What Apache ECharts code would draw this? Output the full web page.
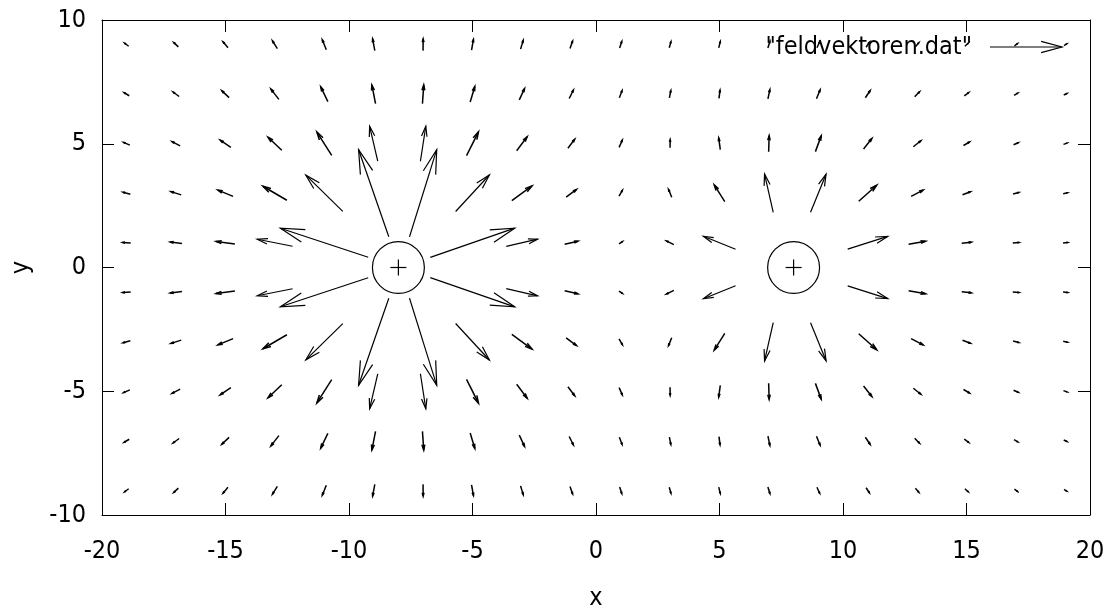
<!DOCTYPE html>
<html>
<head>
<meta charset="utf-8">
<title>feldvektoren</title>
<script src="https://cdn.jsdelivr.net/npm/echarts@6.0.0/dist/echarts.min.js"></script>
<style>
  html, body { margin: 0; padding: 0; background: #fff; }
  #chart { width: 1116px; height: 609px; }
</style>
</head>
<body>
<div id="chart"></div>
<script>
// grid of arrow centres
const xs = [-19, -17, -15, -13, -11, -9, -7, -5, -3, -1, 1, 3, 5, 7, 9, 11, 13, 15, 17, 19];
const ys = [9, 7, 5, 3, 1, -1, -3, -5, -7, -9];

// vector components, one row per y (top to bottom); null = no arrow there
const ex = [
  [-0.160, -0.183, -0.199, -0.198, -0.163, -0.088, 0.005, 0.077, 0.108, 0.105, 0.086, 0.068, 0.065, 0.082, 0.110, 0.132, 0.138, 0.132, 0.119, 0.105],
  [-0.204, -0.247, -0.293, -0.322, -0.288, -0.148, 0.052, 0.187, 0.211, 0.170, 0.109, 0.058, 0.041, 0.077, 0.146, 0.193, 0.197, 0.177, 0.150, 0.126],
  [-0.252, -0.329, -0.435, -0.556, -0.600, -0.328, 0.218, 0.483, 0.423, 0.275, 0.129, 0.005, -0.064, 0.020, 0.234, 0.335, 0.304, 0.241, 0.188, 0.148],
  [-0.296, -0.415, -0.616, -0.968, -1.496, -1.223, 1.103, 1.366, 0.814, 0.418, 0.136, -0.129, -0.426, -0.351, 0.628, 0.727, 0.485, 0.322, 0.227, 0.169],
  [-0.324, -0.474, -0.762, -1.432, -3.554, null, null, 3.416, 1.265, 0.538, 0.132, -0.302, -1.301, null, null, 1.620, 0.687, 0.386, 0.253, 0.181],
  [-0.324, -0.474, -0.762, -1.432, -3.554, null, null, 3.416, 1.265, 0.538, 0.132, -0.302, -1.301, null, null, 1.620, 0.687, 0.386, 0.253, 0.181],
  [-0.296, -0.415, -0.616, -0.968, -1.496, -1.223, 1.103, 1.366, 0.814, 0.418, 0.136, -0.129, -0.426, -0.351, 0.628, 0.727, 0.485, 0.322, 0.227, 0.169],
  [-0.252, -0.329, -0.435, -0.556, -0.600, -0.328, 0.218, 0.483, 0.423, 0.275, 0.129, 0.005, -0.064, 0.020, 0.234, 0.335, 0.304, 0.241, 0.188, 0.148],
  [-0.204, -0.247, -0.293, -0.322, -0.288, -0.148, 0.052, 0.187, 0.211, 0.170, 0.109, 0.058, 0.041, 0.077, 0.146, 0.193, 0.197, 0.177, 0.150, 0.126],
  [-0.160, -0.183, -0.199, -0.198, -0.163, -0.088, 0.005, 0.077, 0.108, 0.105, 0.086, 0.068, 0.065, 0.082, 0.110, 0.132, 0.138, 0.132, 0.119, 0.105]
];
const ey = [
  [0.122, 0.169, 0.234, 0.317, 0.405, 0.469, 0.475, 0.426, 0.355, 0.294, 0.259, 0.248, 0.253, 0.256, 0.241, 0.204, 0.160, 0.119, 0.088, 0.065],
  [0.122, 0.181, 0.275, 0.417, 0.600, 0.750, 0.757, 0.621, 0.457, 0.343, 0.290, 0.293, 0.334, 0.374, 0.358, 0.285, 0.200, 0.134, 0.090, 0.063],
  [0.109, 0.174, 0.297, 0.531, 0.944, 1.410, 1.416, 0.963, 0.568, 0.364, 0.295, 0.331, 0.472, 0.650, 0.637, 0.428, 0.245, 0.140, 0.085, 0.054],
  [0.077, 0.133, 0.255, 0.565, 1.460, 3.519, 3.523, 1.474, 0.592, 0.308, 0.239, 0.317, 0.675, 1.549, 1.540, 0.644, 0.254, 0.118, 0.063, 0.038],
  [0.028, 0.051, 0.106, 0.281, 1.172, null, null, 1.177, 0.291, 0.126, 0.095, 0.148, 0.523, null, null, 0.511, 0.125, 0.048, 0.024, 0.014],
  [-0.028, -0.051, -0.106, -0.281, -1.172, null, null, -1.177, -0.291, -0.126, -0.095, -0.148, -0.523, null, null, -0.511, -0.125, -0.048, -0.024, -0.014],
  [-0.077, -0.133, -0.255, -0.565, -1.460, -3.519, -3.523, -1.474, -0.592, -0.308, -0.239, -0.317, -0.675, -1.549, -1.540, -0.644, -0.254, -0.118, -0.063, -0.038],
  [-0.109, -0.174, -0.297, -0.531, -0.944, -1.410, -1.416, -0.963, -0.568, -0.364, -0.295, -0.331, -0.472, -0.650, -0.637, -0.428, -0.245, -0.140, -0.085, -0.054],
  [-0.122, -0.181, -0.275, -0.417, -0.600, -0.750, -0.757, -0.621, -0.457, -0.343, -0.290, -0.293, -0.334, -0.374, -0.358, -0.285, -0.200, -0.134, -0.090, -0.063],
  [-0.122, -0.169, -0.234, -0.317, -0.405, -0.469, -0.475, -0.426, -0.355, -0.294, -0.259, -0.248, -0.253, -0.256, -0.241, -0.204, -0.160, -0.119, -0.088, -0.065]
];

// point charges (centre) and the circle drawn around them
const charges = [[-8, 0], [8, 0]];
const chargeRadius = 1.05;

const xTicks = [-20, -15, -10, -5, 0, 5, 10, 15, 20];
const yTicks = [-10, -5, 0, 5, 10];
const legendName = '"feldvektoren.dat"';

const FONT = "'DejaVu Sans Condensed', 'Liberation Sans', sans-serif";
const INK = '#000';

const arrows = [];
ys.forEach((y, i) => {
  xs.forEach((x, j) => {
    if (ex[i][j] === null) return;
    arrows.push([x, y, ex[i][j], ey[i][j]]);
  });
});

// gnuplot style head: 15 degree barbs, length ~0.3 of the arrow, capped
function arrowShapes(p0, p1) {
  const vx = p1[0] - p0[0];
  const vy = p1[1] - p0[1];
  const len = Math.hypot(vx, vy) || 1;
  const h = Math.min(len * 0.3, 25);
  const ux = vx / len, uy = vy / len;
  const c = Math.cos(Math.PI / 12), s = Math.sin(Math.PI / 12);
  const b1 = [p1[0] - h * (ux * c - uy * s), p1[1] - h * (uy * c + ux * s)];
  const b2 = [p1[0] - h * (ux * c + uy * s), p1[1] - h * (uy * c - ux * s)];
  // short arrows look heavier in the original
  const style = { stroke: INK, lineWidth: len < 30 ? 1.5 : 1.2, fill: 'none' };
  return [
    { type: 'line', shape: { x1: p0[0], y1: p0[1], x2: p1[0], y2: p1[1] }, style },
    { type: 'polyline', shape: { points: [b1, p1, b2] }, style }
  ];
}

function renderArrow(params, api) {
  const x = api.value(0), y = api.value(1);
  const dx = api.value(2), dy = api.value(3);
  const p0 = api.coord([x - dx / 2, y - dy / 2]);
  const p1 = api.coord([x + dx / 2, y + dy / 2]);
  return { type: 'group', children: arrowShapes(p0, p1) };
}

function renderCharge(params, api) {
  const c = api.coord([api.value(0), api.value(1)]);
  const r = api.size([chargeRadius, chargeRadius]);
  const style = { stroke: INK, lineWidth: 1.2, fill: 'none' };
  return {
    type: 'group',
    children: [
      { type: 'circle', shape: { cx: c[0], cy: c[1], r: (r[0] + r[1]) / 2 }, style },
      { type: 'line', shape: { x1: c[0] - 8, y1: c[1], x2: c[0] + 8, y2: c[1] }, style },
      { type: 'line', shape: { x1: c[0], y1: c[1] - 8, x2: c[0], y2: c[1] + 8 }, style }
    ]
  };
}

const chart = echarts.init(document.getElementById('chart'));

const axisCommon = {
  type: 'value',
  axisLine: { show: true, onZero: false, lineStyle: { color: INK, width: 1 } },
  axisTick: { show: true, inside: true, length: 12, lineStyle: { color: INK, width: 1 } },
  splitLine: { show: false }
};
const labelStyle = { color: INK, fontSize: 25, fontFamily: FONT };

const xRange = { min: xTicks[0], max: xTicks[xTicks.length - 1], interval: xTicks[1] - xTicks[0] };
const yRange = { min: yTicks[0], max: yTicks[yTicks.length - 1], interval: yTicks[1] - yTicks[0] };

const legendArrow = arrowShapes([990, 47], [1062, 47]);

chart.setOption({
  backgroundColor: '#fff',
  animation: false,
  grid: { left: 102, top: 20, width: 988, height: 495, outerBoundsMode: 'none' },
  xAxis: [
    Object.assign({}, axisCommon, xRange, {
      position: 'bottom',
      name: 'x',
      nameLocation: 'middle',
      nameGap: 71,
      nameTextStyle: labelStyle,
      axisLabel: Object.assign({ margin: 24 }, labelStyle)
    }),
    Object.assign({}, axisCommon, xRange, { position: 'top', axisLabel: { show: false } })
  ],
  yAxis: [
    Object.assign({}, axisCommon, yRange, {
      position: 'left',
      name: 'y',
      nameLocation: 'middle',
      nameGap: 68,
      nameTextStyle: labelStyle,
      axisLabel: Object.assign({ margin: 16 }, labelStyle)
    }),
    Object.assign({}, axisCommon, yRange, { position: 'right', axisLabel: { show: false } })
  ],
  series: [
    {
      name: legendName,
      type: 'custom',
      renderItem: renderArrow,
      data: arrows,
      silent: true
    },
    {
      type: 'custom',
      renderItem: renderCharge,
      data: charges,
      silent: true
    }
  ],
  graphic: [
    {
      type: 'text',
      style: {
        text: legendName, x: 972, y: 47,
        align: 'right', verticalAlign: 'middle',
        fontSize: 25, fontFamily: FONT, fill: INK
      }
    }
  ].concat(legendArrow)
});
</script>
</body>
</html>
